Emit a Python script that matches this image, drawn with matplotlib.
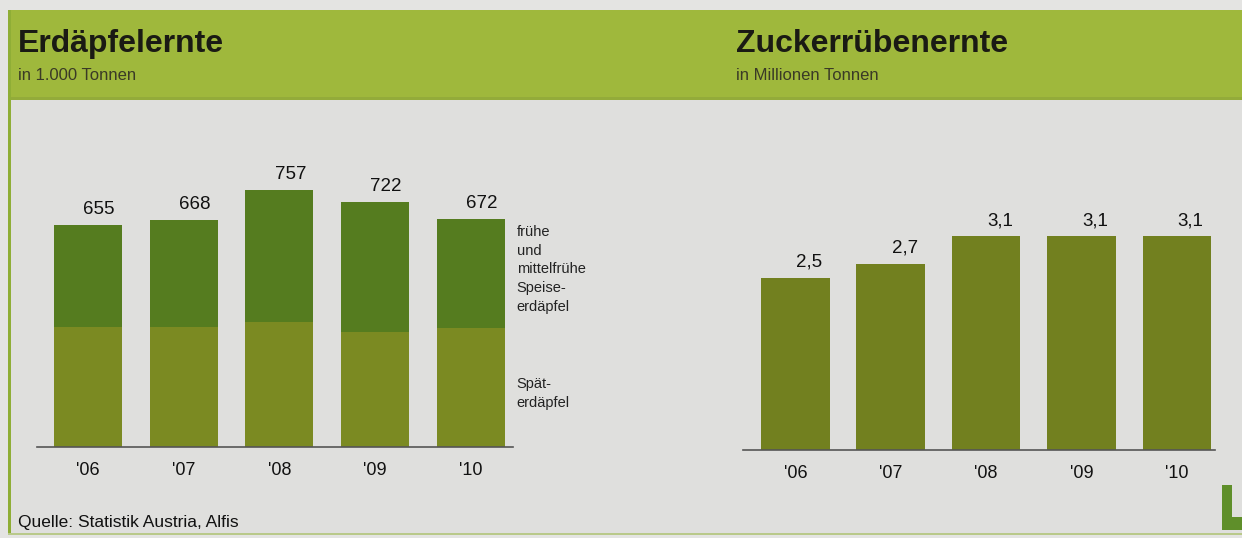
import matplotlib.pyplot as plt
from matplotlib.patches import Rectangle, Polygon

plt.rcParams['font.family'] = ['Liberation Sans', 'DejaVu Sans']

# ----------------------------------------
# data
# ----------------------------------------
years = ["'06", "'07", "'08", "'09", "'10"]
erd_total = [655, 668, 757, 722, 672]
erd_spaet = [354, 354, 369, 339, 351]
erd_frueh = [655 - 354, 668 - 354, 757 - 369, 722 - 339, 672 - 351]
zucker = [2.5, 2.7, 3.1, 3.1, 3.1]
zucker_labels = ['2,5', '2,7', '3,1', '3,1', '3,1']

W, H = 1242, 538
fig = plt.figure(figsize=(W / 100, H / 100), dpi=100)
fig.patch.set_facecolor('#e4e4e2')

def px(x, y, w, h):
    # pixel box (from top-left) -> figure fraction
    return [x / W, 1 - (y + h) / H, w / W, h / H]

# background panels
bg = fig.add_axes([0, 0, 1, 1], zorder=-5)
bg.set_xlim(0, W)
bg.set_ylim(H, 0)
bg.axis('off')
bg.add_patch(Rectangle((8, 100), W - 8, 433, facecolor='#dfdfdd', edgecolor='none'))
bg.add_patch(Rectangle((8, 10), W - 8, 90, facecolor='#9fb83c', edgecolor='none'))
bg.add_patch(Rectangle((8, 97), W - 8, 3, facecolor='#93ab3a', edgecolor='none'))
bg.add_patch(Rectangle((8, 10), 3, 525, facecolor='#8fae36', edgecolor='none'))
bg.add_patch(Rectangle((8, 533), W - 8, 2, facecolor='#b9c98a', edgecolor='none'))
# small "L" logo in the corner
bg.add_patch(Polygon([(1222, 485), (1232, 485), (1232, 517), (1242, 517),
                      (1242, 530), (1222, 530)], closed=True,
                     facecolor='#5f8f2a', edgecolor='none'))

# titles
fig.text(18 / W, 1 - 44 / H, 'Erdäpfelernte', fontsize=23, fontweight='bold',
         color='#1a1a14', va='center')
fig.text(18 / W, 1 - 75 / H, 'in 1.000 Tonnen', fontsize=12,
         color='#3a3a26', va='center')
fig.text(736 / W, 1 - 44 / H, 'Zuckerrübenernte', fontsize=23, fontweight='bold',
         color='#1a1a14', va='center')
fig.text(736 / W, 1 - 75 / H, 'in Millionen Tonnen', fontsize=12,
         color='#3a3a26', va='center')
fig.text(18 / W, 1 - 522 / H, 'Quelle: Statistik Austria, Alfis', fontsize=12.5,
         color='#111111', va='center')

col_dark = '#557c1f'
col_olive = '#7b8a22'
col_zucker = '#72801f'

def style(ax):
    ax.set_facecolor('none')
    for s in ['top', 'right', 'left']:
        ax.spines[s].set_visible(False)
    ax.spines['bottom'].set_color('#555555')
    ax.spines['bottom'].set_linewidth(1.2)
    ax.set_yticks([])
    ax.tick_params(axis='x', length=0, labelsize=13, pad=11, colors='#111111')

# ----------------------------------------
# Erdäpfelernte
# ----------------------------------------
ax1 = fig.add_axes(px(37, 160, 476, 287))
xs = range(len(years))
ax1.bar(xs, erd_spaet, width=0.71, color=col_olive)
ax1.bar(xs, erd_frueh, width=0.71, bottom=erd_spaet, color=col_dark)
ax1.set_xlim(-0.53, 4.44)
ax1.set_ylim(0, 845)
ax1.set_xticks(list(xs))
ax1.set_xticklabels(years)
style(ax1)
for i, v in enumerate(erd_total):
    ax1.annotate(str(v), (i, v), xytext=(8, 5), textcoords='offset points',
                 ha='center', va='bottom', fontsize=13.5, color='#111111')
ax1.text(1.008, 0.775, 'frühe\nund\nmittelfrühe\nSpeise-\nerdäpfel',
         transform=ax1.transAxes, fontsize=10.5, va='top', ha='left',
         linespacing=1.45, color='#222222')
ax1.text(1.008, 0.245, 'Spät-\nerdäpfel', transform=ax1.transAxes,
         fontsize=10.5, va='top', ha='left', linespacing=1.45, color='#222222')

# ----------------------------------------
# Zuckerrübenernte
# ----------------------------------------
ax2 = fig.add_axes(px(743, 160, 472, 290))
ax2.bar(xs, zucker, width=0.72, color=col_zucker)
ax2.set_xlim(-0.55, 4.4)
ax2.set_ylim(0, 290 / 69)
ax2.set_xticks(list(xs))
ax2.set_xticklabels(years)
style(ax2)
for i, v in enumerate(zucker):
    ax2.annotate(zucker_labels[i], (i, v), xytext=(10, 5), textcoords='offset points',
                 ha='center', va='bottom', fontsize=13.5, color='#111111')

fig.savefig('out.png', dpi=100, facecolor=fig.get_facecolor())
